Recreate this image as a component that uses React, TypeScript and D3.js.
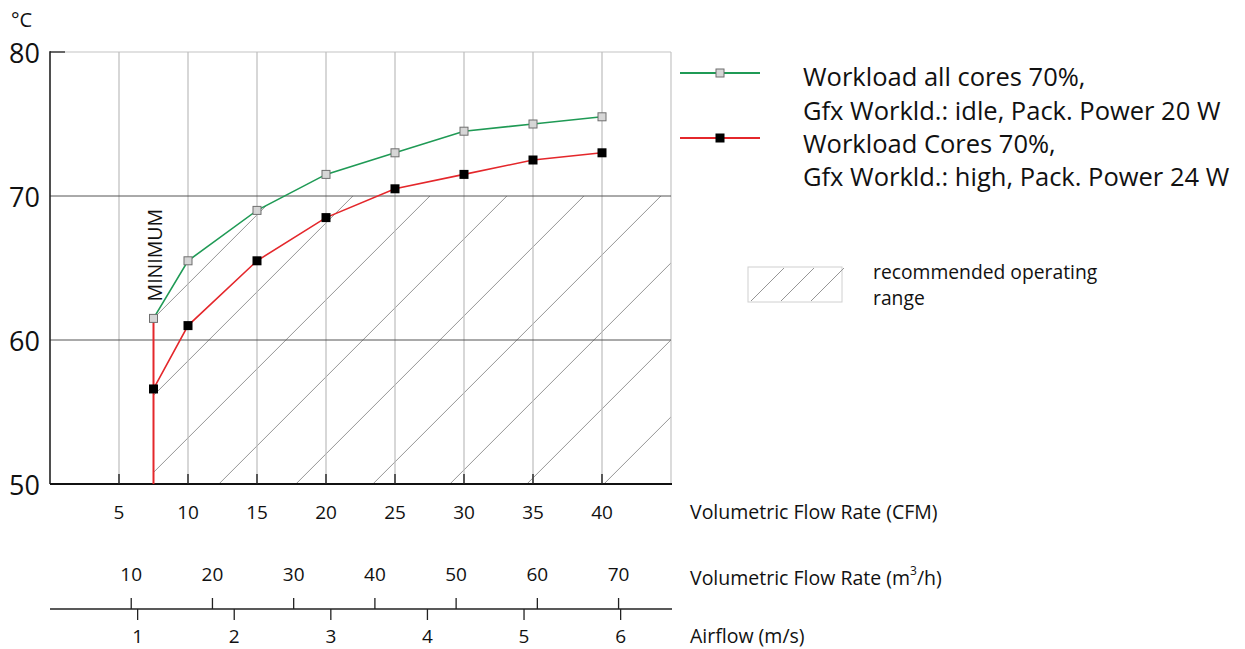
import React from "react";
import * as d3 from "d3";

// ---- data ----
const cfmPoints = [7.5, 10, 15, 20, 25, 30, 35, 40];
const idleTemps = [61.5, 65.5, 69, 71.5, 73, 74.5, 75, 75.5];
const highTemps = [56.6, 61, 65.5, 68.5, 70.5, 71.5, 72.5, 73];
const cfmTicks = [5, 10, 15, 20, 25, 30, 35, 40];
const m3hTicks = [10, 20, 30, 40, 50, 60, 70];
const msTicks = [1, 2, 3, 4, 5, 6];
const tempTicks = [50, 60, 70, 80];
const legendIdle = ["Workload all cores 70%,", "Gfx Workld.: idle, Pack. Power 20 W"];
const legendHigh = ["Workload Cores 70%,", "Gfx Workld.: high, Pack. Power 24 W"];
const hatchLabel = ["recommended operating", "range"];
const axisTitles = ["Volumetric Flow Rate (CFM)", "Volumetric Flow Rate (m\u00B3/h)", "Airflow (m/s)"];
const RECOMMENDED_MAX = 70;
const M3H_PER_CFM = 1.699;
const CFM_PER_MS = 7.0;
const MS_CFM_OFFSET = -0.65;

const FONT = "'Open Sans', 'Noto Sans', sans-serif";
const GREEN = "#1f9a55";
const RED = "#e4272b";

export default function App() {
  const W = 1245, H = 649;
  const left = 50, right = 671, top = 52, bottom = 484;
  const x = d3.scaleLinear().domain([0, 45]).range([left, right]);
  const y = d3.scaleLinear().domain([50, 80]).range([bottom, top]);
  const xM3h = (m: number) => x(m / M3H_PER_CFM);
  const xMs = (v: number) => x(CFM_PER_MS * v + MS_CFM_OFFSET);

  const line = d3.line<[number, number]>().x(d => x(d[0])).y(d => y(d[1]));
  const idlePts: [number, number][] = cfmPoints.map((c, i) => [c, idleTemps[i]]);
  const highPts: [number, number][] = cfmPoints.map((c, i) => [c, highTemps[i]]);

  // hatch region: right of minimum flow, below green curve and below 70 °C
  const xmin = cfmPoints[0];
  const region: [number, number][] = [[xmin, 50]];
  for (let i = 0; i < idlePts.length; i++) {
    const p = idlePts[i];
    if (p[1] <= RECOMMENDED_MAX) region.push(p);
    else {
      const q = idlePts[i - 1];
      const t = (RECOMMENDED_MAX - q[1]) / (p[1] - q[1]);
      region.push([q[0] + t * (p[0] - q[0]), RECOMMENDED_MAX]);
      break;
    }
  }
  region.push([45, RECOMMENDED_MAX], [45, 50]);
  const regionPath = "M" + region.map(p => `${x(p[0])},${y(p[1])}`).join("L") + "Z";
  const c0 = x(idlePts[0][0]) + y(idlePts[0][1]);
  const step = 77;
  const hatch: number[] = d3.range(0, 12).map(k => c0 + k * step);

  const sq = (cx: number, cy: number, s: number) => ({ x: cx - s / 2, y: cy - s / 2, width: s, height: s });

  const legendX1 = 680, legendX2 = 760, legendTextX = 803;
  const legendFs = 25.5;
  const tickFs = 19;
  const titleFs = 19.5;

  return (
    <svg width={W} height={H} style={{ position: "absolute", left: 0, top: 0, background: "#fff" }} fontFamily={FONT}>
      <defs>
        <clipPath id="hatchClip"><path d={regionPath} /></clipPath>
      </defs>
      {/* hatch */}
      <g clipPath="url(#hatchClip)" stroke="#8a8a8a" strokeWidth={0.9}>
        {hatch.map((c, i) => (
          <line key={i} x1={c - bottom} y1={bottom} x2={c - top} y2={top} />
        ))}
      </g>
      {/* frame */}
      <line x1={left} x2={right} y1={top} y2={top} stroke="#c4c4c4" strokeWidth={1.2} />
      <line x1={right} x2={right} y1={top} y2={bottom} stroke="#c4c4c4" strokeWidth={1.2} />
      {cfmTicks.map(t => (
        <line key={t} x1={x(t)} x2={x(t)} y1={top} y2={bottom} stroke="#bdbdbd" strokeWidth={1.2} />
      ))}
      {tempTicks.filter(t => t > 50 && t < 80).map(t => (
        <line key={t} x1={left} x2={right} y1={y(t)} y2={y(t)} stroke="#555" strokeWidth={1} />
      ))}
      <line x1={left} x2={left + 15} y1={y(80)} y2={y(80)} stroke="#333" strokeWidth={1.4} />
      <line x1={left} x2={left} y1={top - 0.7} y2={bottom} stroke="#222" strokeWidth={1.6} />
      <line x1={left} x2={right + 1} y1={bottom} y2={bottom} stroke="#111" strokeWidth={2} />
      {cfmTicks.map(t => (
        <line key={t} x1={x(t)} x2={x(t)} y1={bottom - 10} y2={bottom} stroke="#222" strokeWidth={1.4} />
      ))}
      {/* y labels */}
      <text x={11} y={19} fontSize={20} dominantBaseline="central" fill="#111">°C</text>
      {tempTicks.map(t => (
        <text key={t} x={40} y={y(t)} fontSize={27} textAnchor="end" dominantBaseline="central" fill="#111">{t}</text>
      ))}
      {/* CFM labels */}
      {cfmTicks.map(t => (
        <text key={t} x={x(t)} y={512} fontSize={tickFs} textAnchor="middle" dominantBaseline="central" fill="#111">{t}</text>
      ))}
      {/* m3/h and m/s axis */}
      <line x1={left} x2={right + 1} y1={609} y2={609} stroke="#222" strokeWidth={1.4} />
      {m3hTicks.map(t => (
        <g key={t}>
          <line x1={xM3h(t)} x2={xM3h(t)} y1={598} y2={609} stroke="#222" strokeWidth={1.3} />
          <text x={xM3h(t)} y={574} fontSize={tickFs} textAnchor="middle" dominantBaseline="central" fill="#111">{t}</text>
        </g>
      ))}
      {msTicks.map(t => (
        <g key={t}>
          <line x1={xMs(t)} x2={xMs(t)} y1={609} y2={620} stroke="#222" strokeWidth={1.3} />
          <text x={xMs(t)} y={636} fontSize={tickFs} textAnchor="middle" dominantBaseline="central" fill="#111">{t}</text>
        </g>
      ))}
      {/* axis titles */}
      {axisTitles.map((s, i) => (
        <text key={i} x={690} y={[511, 577, 635][i]} fontSize={titleFs} dominantBaseline="central" fill="#111">
          {i === 1 ? (<>{"Volumetric Flow Rate (m"}<tspan dy={-7} fontSize={12}>3</tspan><tspan dy={7}>/h)</tspan></>) : s}
        </text>
      ))}
      {/* minimum */}
      <line x1={x(xmin)} x2={x(xmin)} y1={y(50)} y2={y(idleTemps[0])} stroke={RED} strokeWidth={2} />
      <text transform={`translate(${x(xmin) + 1},${y(idleTemps[0]) - 17}) rotate(-90)`} fontSize={19.5} dominantBaseline="central" fill="#111">MINIMUM</text>
      {/* series */}
      <path d={line(idlePts) || ""} fill="none" stroke={GREEN} strokeWidth={1.6} />
      <path d={line(highPts) || ""} fill="none" stroke={RED} strokeWidth={1.6} />
      {idlePts.map((p, i) => (
        <rect key={i} {...sq(x(p[0]), y(p[1]), 8)} fill="#d6d6d6" stroke="#6f6f6f" strokeWidth={1} />
      ))}
      {highPts.map((p, i) => (
        <rect key={i} {...sq(x(p[0]), y(p[1]), 9)} fill="#000" />
      ))}
      {/* legend */}
      <line x1={legendX1} x2={legendX2} y1={73} y2={73} stroke={GREEN} strokeWidth={2.2} />
      <rect {...sq((legendX1 + legendX2) / 2, 73, 8)} fill="#d6d6d6" stroke="#6f6f6f" strokeWidth={1} />
      <line x1={legendX1} x2={legendX2} y1={138} y2={138} stroke={RED} strokeWidth={2.2} />
      <rect {...sq((legendX1 + legendX2) / 2, 138, 9)} fill="#000" />
      {legendIdle.map((s, i) => (
        <text key={i} x={legendTextX} y={[76, 110][i]} fontSize={legendFs} dominantBaseline="central" fill="#111">{s}</text>
      ))}
      {legendHigh.map((s, i) => (
        <text key={i} x={legendTextX} y={[143, 176][i]} fontSize={legendFs} dominantBaseline="central" fill="#111">{s}</text>
      ))}
      {/* hatch legend */}
      <rect x={748} y={267} width={94} height={35} fill="#fff" stroke="#d0d0d0" strokeWidth={1} />
      {[0, 1, 2].map(k => (
        <line key={k} x1={751 + k * 30} y1={301} x2={784 + k * 30} y2={268} stroke="#8a8a8a" strokeWidth={0.9} />
      ))}
      {hatchLabel.map((s, i) => (
        <text key={i} x={873} y={[271, 297][i]} fontSize={19.3} dominantBaseline="central" fill="#111">{s}</text>
      ))}
    </svg>
  );
}
